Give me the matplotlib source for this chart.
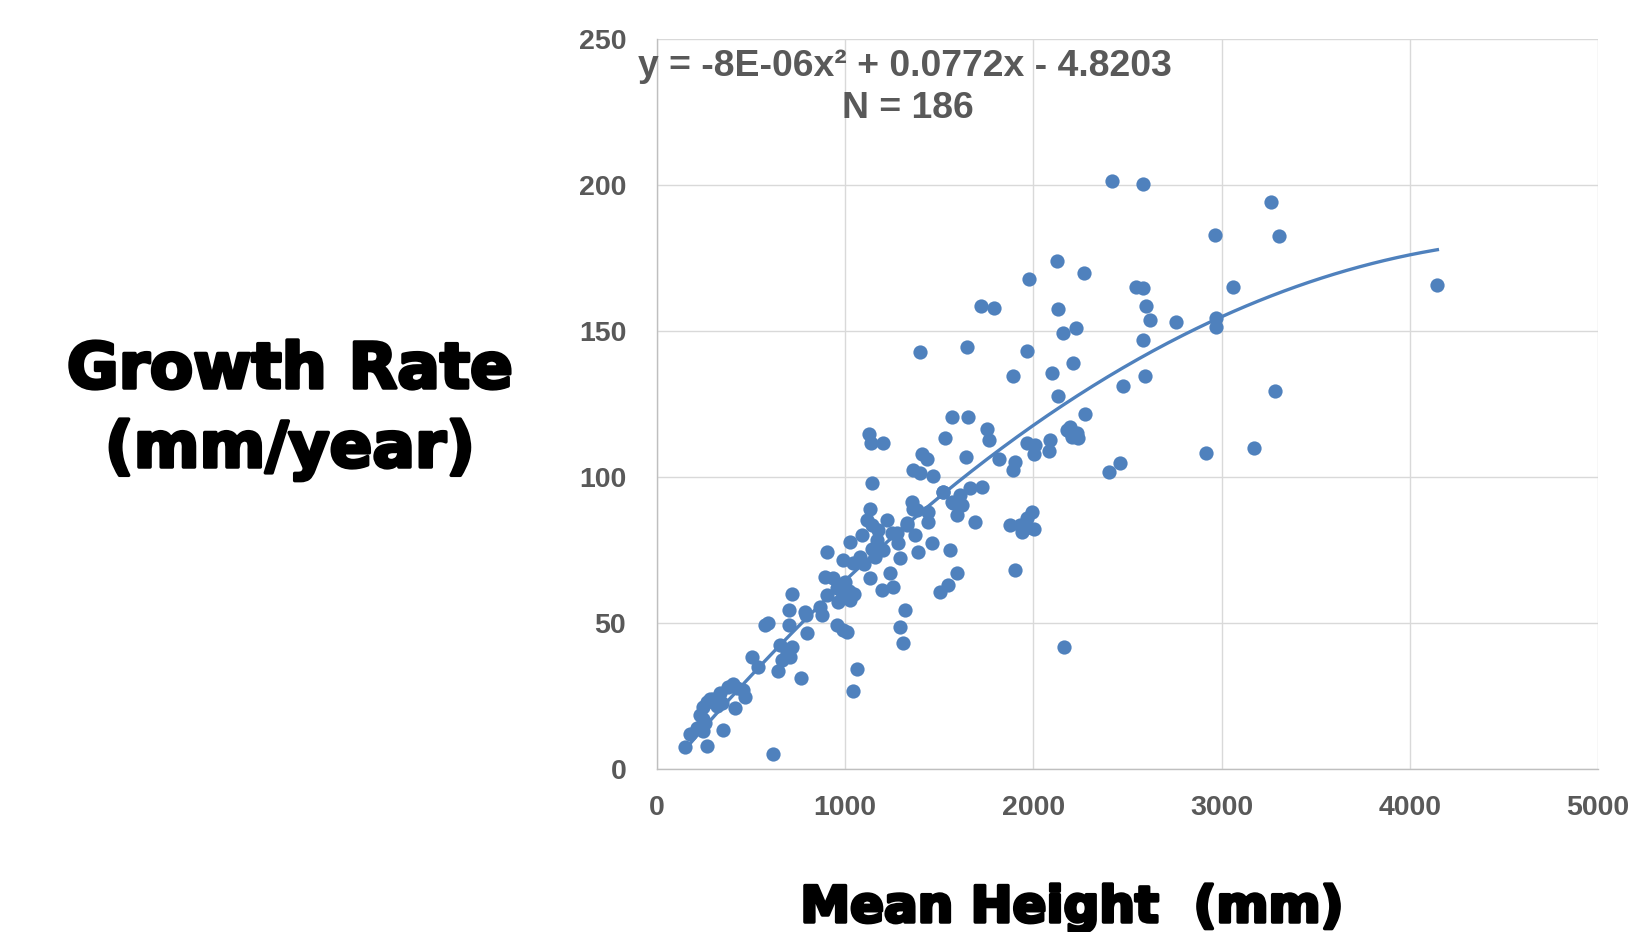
import numpy as np
import matplotlib.pyplot as plt
import matplotlib.patheffects as pe

# mean height (mm) and growth rate (mm/year)
height_mm = [150, 177, 212, 248, 257, 230, 245, 248, 265, 269, 283, 300, 320, 336, 345, 354, 380, 407, 416, 425,
             460, 469, 508, 540, 575, 593, 616, 646, 655, 664, 690, 708, 717, 704, 704, 717, 766, 793, 797, 787,
             867, 876, 903, 903, 894, 938, 973, 1000, 1027, 965, 956, 991, 1009, 991, 1044, 1080, 1027, 1088, 1115, 1133,
             1142, 1142, 1177, 1168, 1221, 1248, 1204, 1142, 1159, 1283, 1292, 1327, 1372, 1354, 1363, 1442, 1460, 1389,
             1522, 1575, 1611, 1664, 1726, 1593, 1690, 1558, 1593, 1549, 1504, 1239, 1257, 1195, 1133, 1319, 1292, 1310,
             1062, 1041, 1000, 1020, 985, 1050, 1274, 1100, 960,
             1398, 1646, 1965, 1894, 2098, 2209, 2160, 2133, 1567, 1655, 1752, 1767, 1531, 1204, 1127, 1138, 1407, 1434,
             1363, 1398, 1466, 1643, 1820, 1903, 1890, 1965, 2009, 2004, 2089, 2085, 2195, 2204, 2230, 2239, 1519, 1620,
             1567, 1381, 1443, 1328, 1991, 1965, 1876, 1929, 1940, 2005, 1903, 2165,
             2416, 2584, 3262, 2965, 3306, 2124, 2271, 1977, 2545, 2584, 3062, 2133, 2597, 2620, 2758, 2970, 2970, 2227,
             2582, 2474, 3285, 2595, 2274, 2177, 2460, 2917, 3172, 2404, 4146, 1723, 1792, 2190, 1960]
growth = [7.5, 12, 14, 13, 15.5, 18.4, 17, 21, 23, 7.8, 24, 24, 21.5, 25.8, 22.4, 13.3, 28, 29, 20.7, 27.5,
          27, 24.7, 38.4, 34.7, 49.2, 49.8, 5, 33.6, 42.4, 37.2, 39.5, 38.4, 41.8, 49.2, 54.3, 59.8, 31, 52.6, 46.4, 53.5,
          55.5, 52.6, 59.5, 74.3, 65.7, 65.2, 62.3, 60.6, 57.7, 57.2, 49.2, 47.5, 46.9, 71.4, 70.3, 72.6, 77.7, 80, 85.1, 89.1,
          97.7, 83.4, 81.7, 78.3, 85.1, 80.6, 74.9, 75.4, 72.6, 77.2, 72, 83.4, 80, 91.4, 89.1, 84.6, 77.2, 74.3,
          94.9, 90.9, 93.7, 96, 96.6, 86.9, 84.6, 74.9, 66.9, 62.9, 60.6, 66.9, 62.3, 61.2, 65.2, 54.3, 48.6, 43,
          34.1, 26.6, 64, 61, 58.5, 60, 80.6, 70, 62,
          142.8, 144.5, 143.1, 134.4, 135.4, 138.8, 149.1, 127.6, 120.3, 120.5, 116.2, 112.5, 113.1, 111.6, 114.6, 111.7, 107.9, 106.2,
          102.2, 101.1, 100.3, 106.8, 105.9, 105.1, 102.2, 111.6, 110.8, 107.7, 112.7, 108.9, 117.1, 113.7, 115.1, 113.1, 94.6, 90.2,
          91.4, 88.5, 88, 84, 88, 85.7, 83.4, 83.4, 81, 82, 67.9, 41.7,
          201.1, 200.1, 194, 182.8, 182.5, 173.9, 169.9, 167.7, 165.1, 164.5, 164.9, 157.3, 158.5, 153.7, 153.1, 154.2, 151.4, 150.8,
          146.8, 131, 129.5, 134.6, 121.5, 116, 104.8, 108.2, 110, 101.7, 165.6, 158.5, 157.7, 115.5, 82.5]

# polynomial trendline, order 2
trend_coef = [-8e-06, 0.0772, -4.8203]

blue = '#4F81BD'
grey_txt = '#595959'

fig = plt.figure(figsize=(16.47, 9.32), dpi=100)
ax = fig.add_axes([656.7 / 1647, 1 - 768.7 / 932, 941.5 / 1647, 730 / 932])

ax.scatter(height_mm, growth, s=105, color=blue, linewidths=0, zorder=3)
xs = np.linspace(min(height_mm), max(height_mm), 300)
ax.plot(xs, np.polyval(trend_coef, xs), color=blue, lw=2.4, zorder=2)

ax.set_xlim(0, 5000)
ax.set_ylim(0, 250)
ax.set_xticks(range(0, 5001, 1000))
ax.set_yticks(range(0, 251, 50))
ax.grid(True, color='#D9D9D9', lw=1.0)
ax.set_axisbelow(True)
for s in ['top', 'right']:
    ax.spines[s].set_visible(False)
for s in ['left', 'bottom']:
    ax.spines[s].set_color('#BFBFBF')
    ax.spines[s].set_linewidth(1.0)
ax.tick_params(length=0, labelsize=20.5, labelcolor=grey_txt)
ax.tick_params(axis='y', pad=22)
ax.tick_params(axis='x', pad=19)
for lbl in ax.get_xticklabels() + ax.get_yticklabels():
    lbl.set_fontweight('bold')
    lbl.set_family('Liberation Sans')

r = fig.canvas.get_renderer()


def fit_width(t, width_px):
    w = t.get_window_extent(r).width
    t.set_fontsize(t.get_fontsize() * width_px / w)
    return t.get_fontsize()


eq = fig.text(905 / 1647, 1 - 76 / 932, 'y = -8E-06x² + 0.0772x - 4.8203', ha='center', va='baseline',
              fontsize=27, fontweight='bold', color=grey_txt, family='Liberation Sans')
fs = fit_width(eq, 534)
fig.text(908 / 1647, 1 - 118 / 932, 'N = 186', ha='center', va='baseline',
         fontsize=fs, fontweight='bold', color=grey_txt, family='Liberation Sans')

# heavy black labels, thickened with a stroke
heavy = [pe.withStroke(linewidth=2.5, foreground='black')]
yl1 = fig.text(290 / 1647, 1 - 388 / 932, 'Growth Rate', ha='center', va='baseline',
               fontsize=45, fontweight='bold', color='black', family='DejaVu Sans')
fs = fit_width(yl1, 446)
yl1.set_path_effects(heavy)
fig.text(290 / 1647, 1 - 467 / 932, '(mm/year)', ha='center', va='baseline',
         fontsize=fs, fontweight='bold', color='black', family='DejaVu Sans', path_effects=heavy)

xl = fig.text(1072 / 1647, 1 - 922 / 932, 'Mean Height  (mm)', ha='center', va='baseline',
              fontsize=36, fontweight='bold', color='black', family='DejaVu Sans')
fit_width(xl, 543)
xl.set_path_effects(heavy)

fig.savefig('out.png', dpi=100)
